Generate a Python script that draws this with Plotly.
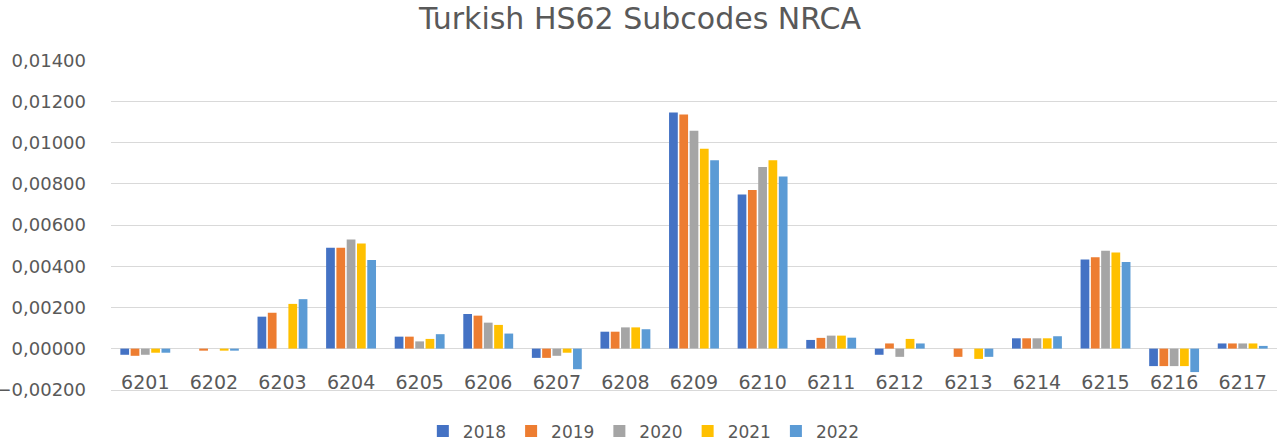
import plotly.graph_objects as go

# HS62 subcodes on the x axis
codes = ['6201', '6202', '6203', '6204', '6205', '6206', '6207', '6208', '6209',
         '6210', '6211', '6212', '6213', '6214', '6215', '6216', '6217']

years = ['2018', '2019', '2020', '2021', '2022']

nrca_2018 = [-0.00030, 0.00000, 0.00155, 0.00490, 0.00058, 0.00168, -0.00045, 0.00082, 0.01146,
             0.00748, 0.00042, -0.00030, 0.00000, 0.00050, 0.00432, -0.00085, 0.00025]
nrca_2019 = [-0.00035, -0.00010, 0.00174, 0.00490, 0.00058, 0.00160, -0.00045, 0.00082, 0.01136,
             0.00770, 0.00052, 0.00025, -0.00040, 0.00050, 0.00443, -0.00085, 0.00025]
nrca_2020 = [-0.00030, 0.00000, 0.00000, 0.00530, 0.00035, 0.00126, -0.00035, 0.00103, 0.01058,
             0.00882, 0.00063, -0.00040, 0.00000, 0.00050, 0.00475, -0.00085, 0.00025]
nrca_2021 = [-0.00020, -0.00010, 0.00217, 0.00510, 0.00047, 0.00115, -0.00020, 0.00103, 0.00970,
             0.00914, 0.00063, 0.00047, -0.00050, 0.00050, 0.00466, -0.00085, 0.00025]
nrca_2022 = [-0.00020, -0.00010, 0.00240, 0.00430, 0.00070, 0.00073, -0.00100, 0.00094, 0.00914,
             0.00836, 0.00053, 0.00025, -0.00040, 0.00060, 0.00420, -0.00114, 0.00013]

series = [nrca_2018, nrca_2019, nrca_2020, nrca_2021, nrca_2022]
colors = ['#4472C4', '#ED7D31', '#A5A5A5', '#FFC000', '#5B9BD5']

fig = go.Figure()
for yr, vals, col in zip(years, series, colors):
    fig.add_trace(go.Bar(x=codes, y=vals, name=yr, marker_color=col, marker_line_width=0))

fig.update_layout(
    width=1280, height=444,
    paper_bgcolor='white', plot_bgcolor='white',
    font=dict(family='DejaVu Sans, sans-serif', size=18, color='#595959'),
    title=dict(text='Turkish HS62 Subcodes NRCA', x=0.5, xanchor='center',
               y=0.958, yanchor='middle', font=dict(size=30, color='#595959')),
    margin=dict(l=111, r=3, t=60, b=54),
    barmode='group', bargap=0.25, bargroupgap=0.15,
    legend=dict(orientation='h', xref='container', x=0.503, xanchor='center',
                yref='container', y=0.028, yanchor='middle',
                font=dict(size=17, color='#595959'), traceorder='normal'),
    # labels pulled up into the plot, Excel style, just under the zero line
    xaxis=dict(type='category', showgrid=False, ticks='', ticklabelstandoff=-25,
               showline=True, linecolor='#D9D9D9', linewidth=1, automargin=False,
               tickfont=dict(size=19, color='#595959')),
    yaxis=dict(range=[-0.00201, 0.01401], dtick=0.002, tickformat='.5f',
               showgrid=True, gridcolor='#D9D9D9', gridwidth=1,
               zeroline=True, zerolinecolor='#D9D9D9', zerolinewidth=1, automargin=False,
               ticks='', ticklabelstandoff=24, tickfont=dict(size=18, color='#595959')),
    separators=',.',
)

# page body has a default 8px margin; drop it so the figure sits at the corner
fig.write_html("out.html", config={'displayModeBar': False},
               post_script="document.body.style.margin='0px';")
